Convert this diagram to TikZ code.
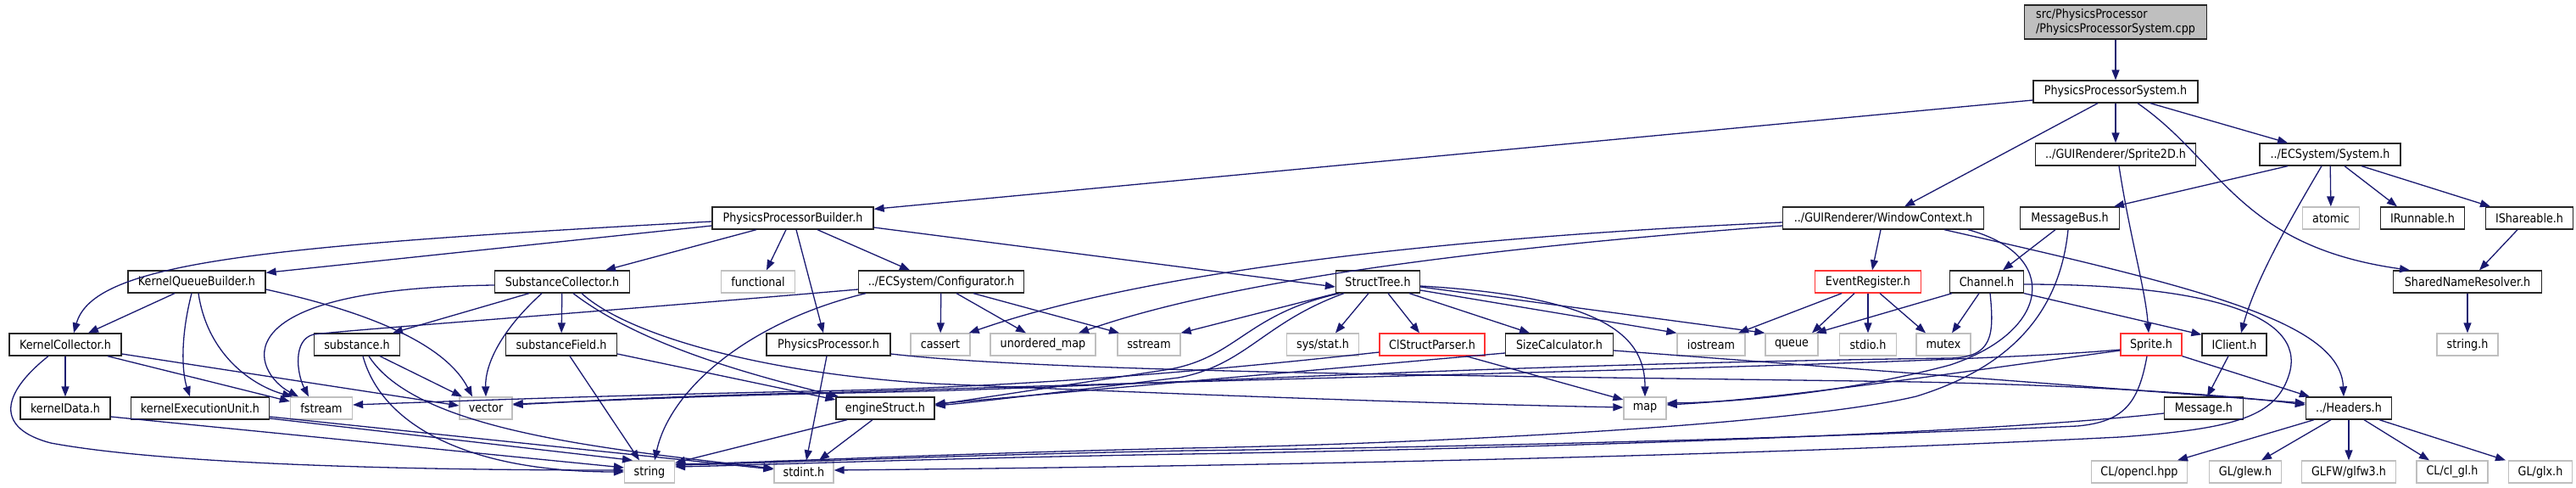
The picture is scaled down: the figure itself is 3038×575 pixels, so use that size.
\documentclass[tikz,border=0pt]{standalone}
\usepackage{fontspec}
\setmainfont{DejaVu Sans}[FakeStretch=0.88]
\usetikzlibrary{arrows.meta}
\definecolor{edgeblue}{HTML}{191970}
\definecolor{leafgray}{HTML}{BFBFBF}
\definecolor{rootfill}{HTML}{BFBFBF}
\definecolor{incred}{HTML}{FF3333}
\begin{document}
\begin{tikzpicture}[x=1pt,y=-1pt,
  box/.style={draw, line width=1.3pt, minimum height=26pt, inner sep=0pt, font=\fontsize{14.5pt}{16.5pt}\selectfont, anchor=center},
  file/.style={box, draw=black!85},
  leaf/.style={box, draw=leafgray},
  trunc/.style={box, draw=incred},
  ed/.style={draw=edgeblue, line width=1.3pt, -{Triangle[length=12pt,width=9pt]}},
]
\useasboundingbox (0,0) rectangle (3038,575);
% row 0-2
\node[box, fill=rootfill, draw=black!85, minimum width=215pt, minimum height=40pt, align=left] (root) at (2495,26) {src/PhysicsProcessor\\/PhysicsProcessorSystem.cpp};
\node[file, minimum width=194pt] (PPS) at (2495,108) {PhysicsProcessorSystem.h};
\node[file, minimum width=189pt] (S2D) at (2495,182) {../GUIRenderer/Sprite2D.h};
\node[file, minimum width=166pt] (Sys) at (2748,182) {../ECSystem/System.h};
% row 3
\node[file, minimum width=190pt] (PPB) at (935,257) {PhysicsProcessorBuilder.h};
\node[file, minimum width=237pt] (WC) at (2221,257) {../GUIRenderer/WindowContext.h};
\node[file, minimum width=117pt] (MsgBus) at (2441,257) {MessageBus.h};
\node[leaf, minimum width=67pt] (atomic) at (2749,257) {atomic};
\node[file, minimum width=99pt] (IRunnable) at (2857,257) {IRunnable.h};
\node[file, minimum width=103pt] (IShareable) at (2983,257) {IShareable.h};
% row 4
\node[file, minimum width=162pt] (KQB) at (232,332) {KernelQueueBuilder.h};
\node[file, minimum width=159pt] (SC) at (663,332) {SubstanceCollector.h};
\node[leaf, minimum width=87pt] (functional) at (894,332) {functional};
\node[file, minimum width=195pt] (Config) at (1110,332) {../ECSystem/Configurator.h};
\node[file, minimum width=99pt] (StructTree) at (1625,332) {StructTree.h};
\node[trunc, minimum width=125pt] (EventRegister) at (2203,332) {EventRegister.h};
\node[file, minimum width=87pt] (Channel) at (2343,332) {Channel.h};
\node[file, minimum width=175pt] (SNR) at (2910,332) {SharedNameResolver.h};
% row 5
\node[file, minimum width=132pt] (KC) at (77,406) {KernelCollector.h};
\node[file, minimum width=101pt] (substance) at (421,406) {substance.h};
\node[file, minimum width=131pt] (substanceField) at (662,406) {substanceField.h};
\node[file, minimum width=146pt] (PP) at (977,406) {PhysicsProcessor.h};
\node[leaf, minimum width=70pt] (cassert) at (1109,406) {cassert};
\node[leaf, minimum width=124pt] (unordered_map) at (1230,406) {unordered\_map};
\node[leaf, minimum width=74pt] (sstream) at (1355,406) {sstream};
\node[leaf, minimum width=85pt] (sysstat) at (1560,406) {sys/stat.h};
\node[trunc, minimum width=124pt] (ClStructParser) at (1689,406) {ClStructParser.h};
\node[file, minimum width=127pt] (SizeCalc) at (1839,406) {SizeCalculator.h};
\node[leaf, minimum width=80pt] (iostream) at (2018,406) {iostream};
\node[leaf, minimum width=62pt] (queue) at (2113,406) {queue};
\node[leaf, minimum width=67pt] (stdio) at (2203,406) {stdio.h};
\node[leaf, minimum width=64pt] (mutex) at (2292,406) {mutex};
\node[trunc, minimum width=72pt] (Sprite) at (2537,406) {Sprite.h};
\node[file, minimum width=76pt] (IClient) at (2635,406) {IClient.h};
\node[leaf, minimum width=72pt] (stringh) at (2910,406) {string.h};
% row 6
\node[file, minimum width=106pt] (kernelData) at (77,481) {kernelData.h};
\node[file, minimum width=163pt] (kEU) at (236,481) {kernelExecutionUnit.h};
\node[leaf, minimum width=73pt] (fstream) at (379,481) {fstream};
\node[leaf, minimum width=62pt] (vector) at (573,481) {vector};
\node[file, minimum width=116pt] (engineStruct) at (1044,481) {engineStruct.h};
\node[leaf, minimum width=50pt] (map) at (1940,481) {map};
\node[file, minimum width=93pt] (Message) at (2599,481) {Message.h};
\node[file, minimum width=101pt] (Headers) at (2770,481) {../Headers.h};
% row 7
\node[leaf, minimum width=59pt] (string) at (766,556) {string};
\node[leaf, minimum width=70pt] (stdint) at (948,556) {stdint.h};
\node[leaf, minimum width=113pt] (opencl) at (2523,556) {CL/opencl.hpp};
\node[leaf, minimum width=85pt] (glew) at (2648,556) {GL/glew.h};
\node[leaf, minimum width=111pt] (glfw) at (2770,556) {GLFW/glfw3.h};
\node[leaf, minimum width=84pt] (clgl) at (2892,556) {CL/cl\_gl.h};
\node[leaf, minimum width=75pt] (glx) at (2996,556) {GL/glx.h};

% ---- edges ----
\draw[ed] (root) -- (PPS);
\draw[ed] ([yshift=-10pt]PPS.west) -- ([yshift=-3pt]PPB.north east);
\draw[ed] ([xshift=-21pt]PPS.south) -- ([xshift=25pt]WC.north);
\draw[ed] (PPS) -- (S2D);
\draw[ed] ([xshift=41pt]PPS.south) -- ([xshift=-50pt]Sys.north);
\draw[ed] ([xshift=26pt]PPS.south) .. controls (2620,190) and (2640,290) .. ([xshift=-68pt]SNR.north);
\draw[ed] ([xshift=4pt]S2D.south) .. controls (2512,280) and (2530,340) .. ([xshift=-3pt]Sprite.north);
\draw[ed] ([xshift=-50pt]Sys.south) -- ([xshift=52pt]MsgBus.north);
\draw[ed] ([xshift=-10pt]Sys.south) .. controls (2700,260) and (2660,330) .. ([xshift=8pt]IClient.north);
\draw[ed] (Sys) -- (atomic);
\draw[ed] ([xshift=17pt]Sys.south) -- ([xshift=-30pt]IRunnable.north);
\draw[ed] ([xshift=37pt]Sys.south) -- ([xshift=-46pt]IShareable.north);
\draw[ed] ([xshift=-14pt]IShareable.south) -- ([xshift=14pt]SNR.north);
\draw[ed] (SNR) -- (stringh);
% PhysicsProcessorBuilder
\draw[ed] ([yshift=-4pt]PPB.west) .. controls (300,290) and (110,310) .. ([xshift=10pt]KC.north);
\draw[ed] ([yshift=-9pt]PPB.west) -- ([yshift=-3pt]KQB.north east);
\draw[ed] ([xshift=-43pt]PPB.south) -- ([xshift=51pt]SC.north);
\draw[ed] ([xshift=-8pt]PPB.south) -- ([xshift=10pt]functional.north);
\draw[ed] ([xshift=29pt]PPB.south) -- ([xshift=-37pt]Config.north);
\draw[ed] ([xshift=4pt]PPB.south) -- ([xshift=-6pt]PP.north);
\draw[ed] ([yshift=-11pt]PPB.east) -- ([yshift=-6pt]StructTree.west);
% KernelQueueBuilder
\draw[ed] ([xshift=-26pt]KQB.south) -- ([xshift=27pt]KC.north);
\draw[ed] ([xshift=-6pt]KQB.south) .. controls (212,400) and (215,440) .. ([xshift=-12pt]kEU.north);
\draw[ed] ([xshift=2pt]KQB.south) .. controls (245,420) and (300,455) .. ([xshift=-34pt]fstream.north);
\draw[ed] ([yshift=-9pt]KQB.east) .. controls (400,360) and (520,395) .. ([xshift=-16pt]vector.north);
% KernelCollector
\draw[ed] (KC) -- (kernelData);
\draw[ed] ([xshift=-20pt]KC.south) .. controls (0,465) and (-5,505) .. (60,522) .. controls (200,548) and (500,554) .. ([yshift=2pt]string.west);
\draw[ed] ([xshift=50pt]KC.south) -- ([yshift=8pt]fstream.west);
\draw[ed] ([yshift=-11pt]KC.east) -- ([yshift=3pt]vector.west);
\draw[ed] ([yshift=-10pt]kernelData.east) -- ([yshift=5pt]string.west);
\draw[ed] ([yshift=-10pt]kEU.east) -- ([yshift=3pt]stdint.west);
\draw[ed] ([yshift=-12pt]kEU.east) -- ([xshift=-20pt]string.north);
% substance
\draw[ed] ([xshift=27pt]substance.south) -- ([xshift=-28pt]vector.north);
\draw[ed] ([xshift=7pt]substance.south) .. controls (450,500) and (550,556) .. (string.west);
\draw[ed] ([xshift=14pt]substance.south) .. controls (490,505) and (700,528) .. ([yshift=4pt]stdint.west);
\draw[ed] ([xshift=10pt]substanceField.south) -- ([xshift=-12pt]string.north);
\draw[ed] ([yshift=-11pt]substanceField.east) -- ([yshift=10pt]engineStruct.west);
% SubstanceCollector
\draw[ed] ([yshift=-4pt]SC.west) .. controls (250,340) and (300,440) .. ([xshift=-27pt]fstream.north);
\draw[ed] ([xshift=-39pt]SC.south) -- ([xshift=42pt]substance.north);
\draw[ed] ([xshift=-24pt]SC.south) .. controls (590,390) and (572,430) .. (vector.north);
\draw[ed] (SC) -- (substanceField);
\draw[ed] ([xshift=13pt]SC.south) .. controls (760,410) and (900,445) .. ([xshift=-55pt]engineStruct.north);
\draw[ed] ([xshift=23pt]SC.south) .. controls (740,395) and (900,440) .. (1100,452) .. controls (1400,465) and (1700,476) .. ([yshift=1pt]map.west);
% Configurator
\draw[ed] ([yshift=-9pt]Config.west) .. controls (700,368) and (420,388) .. (370,394) .. controls (345,400) and (350,440) .. ([xshift=-15pt]fstream.north);
\draw[ed] ([xshift=-89pt]Config.south) .. controls (880,380) and (790,460) .. ([xshift=6pt]string.north);
\draw[ed] (Config) -- (cassert);
\draw[ed] ([xshift=18pt]Config.south) -- ([xshift=-20pt]unordered_map.north);
\draw[ed] ([xshift=38pt]Config.south) -- ([xshift=-35pt]sstream.north);
% PhysicsProcessor
\draw[ed] ([xshift=-2pt]PP.south) -- ([xshift=3pt]stdint.north);
\draw[ed] ([yshift=-11pt]PP.east) .. controls (1250,440) and (1800,443) .. (2260,450) .. controls (2500,455) and (2650,468) .. ([yshift=4pt]Headers.west);
% engineStruct
\draw[ed] ([xshift=-45pt]engineStruct.south) -- ([yshift=-3pt]string.north east);
\draw[ed] ([xshift=-15pt]engineStruct.south) -- ([xshift=18pt]stdint.north);
% StructTree
\draw[ed] ([xshift=-11pt]StructTree.south) -- ([xshift=15pt]sysstat.north);
\draw[ed] ([xshift=12pt]StructTree.south) -- ([xshift=-15pt]ClStructParser.north);
\draw[ed] ([xshift=37pt]StructTree.south) -- ([xshift=-35pt]SizeCalc.north);
\draw[ed] ([yshift=-10pt]StructTree.east) -- (iostream.north west);
\draw[ed] ([yshift=-6pt]StructTree.east) -- (queue.north west);
\draw[ed] ([yshift=-5pt]StructTree.east) .. controls (1900,350) and (1940,400) .. (map.north);
\draw[ed] ([xshift=-49pt]StructTree.south) -- (sstream.north east);
\draw[ed] ([xshift=-45pt]StructTree.south) .. controls (1470,370) and (1460,420) .. (1380,435) .. controls (1250,455) and (1150,470) .. ([yshift=4pt]engineStruct.east);
\draw[ed] ([xshift=-40pt]StructTree.south) .. controls (1490,380) and (1470,430) .. (1390,445) .. controls (1250,462) and (1150,474) .. ([yshift=3pt]engineStruct.east);
% ClStructParser, SizeCalculator
\draw[ed] ([yshift=-9pt]ClStructParser.west) .. controls (1400,440) and (1200,455) .. (1000,460) .. controls (700,466) and (500,474) .. ([yshift=4pt]fstream.east);
\draw[ed] ([xshift=40pt]ClStructParser.south) -- ([yshift=10pt]map.west);
\draw[ed] ([yshift=-10pt]SizeCalc.west) -- ([yshift=5pt]engineStruct.east);
\draw[ed] ([yshift=-7pt]SizeCalc.east) -- ([yshift=6pt]Headers.west);
% WindowContext
\draw[ed] ([yshift=-5pt]WC.west) .. controls (1700,280) and (1350,320) .. ([xshift=-2pt]cassert.north east);
\draw[ed] ([yshift=-9pt]WC.west) .. controls (1750,292) and (1450,330) .. ([xshift=42pt]unordered_map.north);
\draw[ed] ([xshift=-3pt]WC.south) -- ([xshift=5pt]EventRegister.north);
\draw[ed] ([xshift=72pt]WC.south) .. controls (2600,340) and (2760,380) .. ([xshift=-6pt]Headers.north);
\draw[ed] ([xshift=100pt]WC.south) .. controls (2430,300) and (2420,390) .. (2300,430) .. controls (2180,462) and (2050,474) .. ([yshift=6pt]map.east);
% MessageBus
\draw[ed] ([xshift=-17pt]MsgBus.south) -- ([xshift=19pt]Channel.north);
\draw[ed] ([xshift=-2pt]MsgBus.south) .. controls (2430,360) and (2380,430) .. (2260,467) .. controls (2100,505) and (1600,525) .. (1400,528) .. controls (1100,535) and (900,545) .. ([yshift=9pt]string.east);
% Channel
\draw[ed] ([xshift=-41pt]Channel.south) -- ([xshift=-3pt]queue.north east);
\draw[ed] ([xshift=-9pt]Channel.south) -- ([xshift=10pt]mutex.north);
\draw[ed] ([xshift=4pt]Channel.south) .. controls (2352,395) and (2350,421) .. (2300,422) .. controls (1700,430) and (1300,458) .. (1000,463) .. controls (800,467) and (700,473) .. ([yshift=5pt]vector.east);
\draw[ed] (Channel.south east) -- ([yshift=-2pt]IClient.north west);
\draw[ed] ([yshift=-3pt]Channel.east) .. controls (2600,335) and (2720,370) .. (2700,440) .. controls (2685,490) and (2640,505) .. (2500,515) .. controls (2000,540) and (1400,550) .. ([yshift=2pt]stdint.east);
% Sprite
\draw[ed] ([yshift=-6pt]Sprite.west) .. controls (2300,430) and (1600,442) .. (1000,462) .. controls (800,466) and (700,472) .. ([yshift=4pt]vector.east);
\draw[ed] ([yshift=-7pt]Sprite.west) .. controls (2300,440) and (2100,470) .. ([yshift=4pt]map.east);
\draw[ed] (Sprite.south east) -- ([xshift=5pt]Headers.north west);
\draw[ed] ([xshift=-5pt]Sprite.south) .. controls (2522,475) and (2505,497) .. (2450,502) .. controls (2000,522) and (1500,530) .. (1400,531) .. controls (1100,537) and (900,546) .. ([yshift=8pt]string.east);
% IClient, Message
\draw[ed] ([xshift=-7pt]IClient.south) -- ([xshift=4pt]Message.north);
\draw[ed] ([yshift=-6pt]Message.west) .. controls (2300,515) and (1700,530) .. (1400,535) .. controls (1100,540) and (900,548) .. ([yshift=6pt]string.east);
% EventRegister
\draw[ed] ([xshift=-31pt]EventRegister.south) -- ([xshift=32pt]iostream.north);
\draw[ed] ([xshift=-16pt]EventRegister.south) -- ([xshift=24pt]queue.north);
\draw[ed] (EventRegister) -- (stdio);
\draw[ed] ([xshift=14pt]EventRegister.south) -- ([xshift=-21pt]mutex.north);
% Headers
\draw[ed] ([xshift=-41pt]Headers.south) -- ([xshift=45pt]opencl.north);
\draw[ed] ([xshift=-21pt]Headers.south) -- ([xshift=19pt]glew.north);
\draw[ed] (Headers) -- (glfw);
\draw[ed] ([xshift=18pt]Headers.south) -- ([xshift=-27pt]clgl.north);
\draw[ed] ([xshift=36pt]Headers.south) -- ([xshift=-41pt]glx.north);
\end{tikzpicture}
\end{document}
